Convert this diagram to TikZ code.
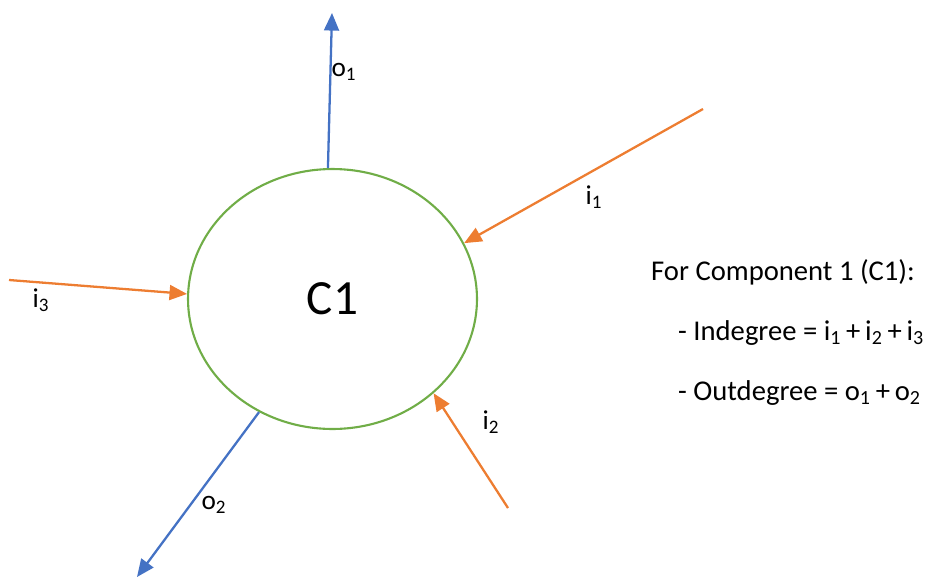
\documentclass[tikz,border=0pt]{standalone}
\usepackage{fontspec}
\setmainfont{Carlito}
\usepackage{xcolor}
\usetikzlibrary{shapes.geometric,arrows.meta,positioning}

\definecolor{compgreen}{HTML}{70AD47}
\definecolor{outblue}{HTML}{4472C4}
\definecolor{inorange}{HTML}{ED7D31}

\begin{document}
\begin{tikzpicture}[
  x=0.02cm, y=-0.02cm,
  comp/.style={draw=compgreen, line width=1.2pt, ellipse, minimum width=5.78cm, minimum height=5.2cm, inner sep=0pt, font=\fontsize{28}{32}\selectfont},
  arr/.style={-{Triangle[length=10pt, width=8.5pt]}, line width=1.3pt, color=#1},
  lab/.style={font=\fontsize{15.5}{18}\selectfont},
  note/.style={font=\fontsize{16.3}{19}\selectfont, anchor=base west}
]
\useasboundingbox (0,0) rectangle (925,578);

% Component
\node[comp] (c1) at (332.5,299) {C1};

% Free ends
\coordinate (o1end) at (332,13);
\coordinate (o2end) at (137,577);
\coordinate (i1start) at (703,109);
\coordinate (i2start) at (508,508);
\coordinate (i3start) at (9,280);

% Outgoing edges
\draw[arr=outblue] (c1.92) -- (o1end);
\draw[arr=outblue] (c1.237) -- (o2end);

% Incoming edges
\draw[arr=inorange] (i1start) -- (c1.23);
\draw[arr=inorange] (i2start) -- (c1.317);
\draw[arr=inorange] (i3start) -- (c1.178);

% Edge labels
\node[lab] (lo1) at (344,72) {o\textsubscript{1}};
\node[lab] (lo2) at (214,505) {o\textsubscript{2}};
\node[lab] (li1) at (594,197) {i\textsubscript{1}};
\node[lab] (li2) at (491,422) {i\textsubscript{2}};
\node[lab] (li3) at (41,300) {i\textsubscript{3}};

% Degree summary
\node[note] (title) at (645,280) {For Component 1 (C1):};
\node[note] (indeg) at (672,340) {- Indegree = i\textsubscript{1}\,+\,i\textsubscript{2}\,+\,i\textsubscript{3}};
\node[note] (outdeg) at (672,400) {- Outdegree = o\textsubscript{1}\,+\,o\textsubscript{2}};

\end{tikzpicture}
\end{document}
